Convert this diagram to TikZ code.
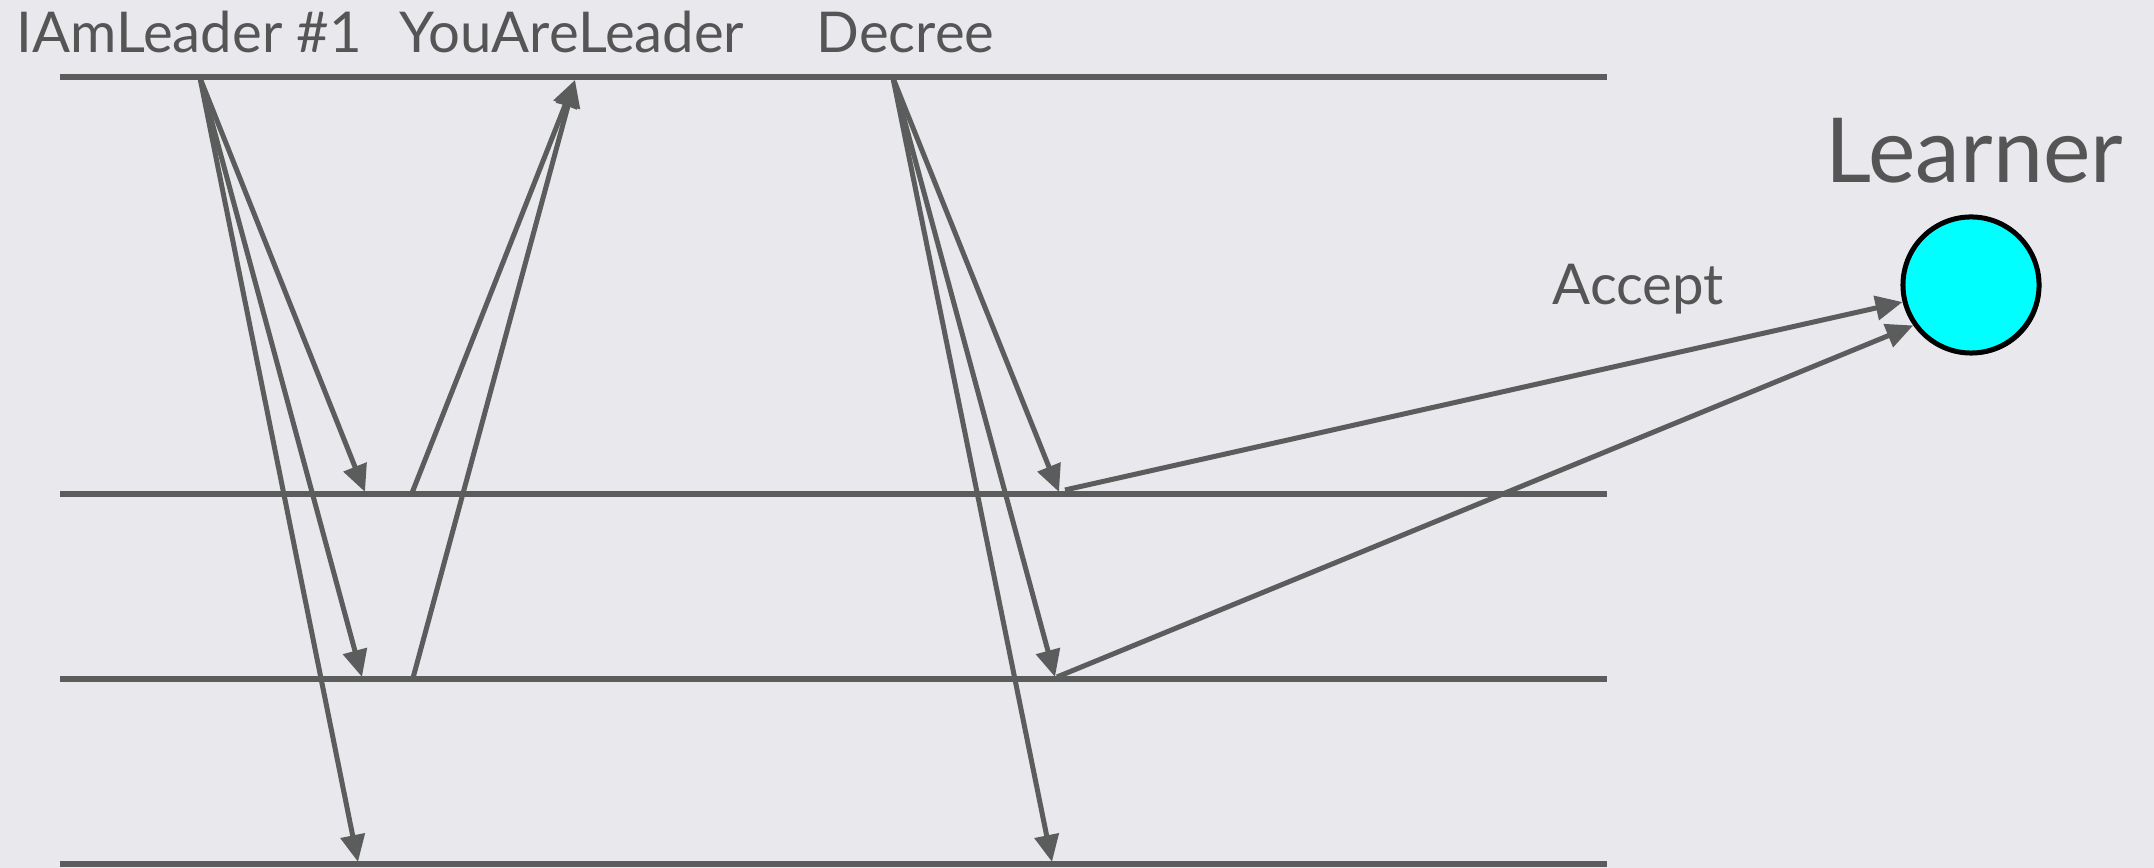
\documentclass[tikz,border=0pt]{standalone}
\usepackage{fontspec}
\setmainfont{Lato}
\usetikzlibrary{arrows.meta,shadows}
\definecolor{bg}{RGB}{233,232,237}
\definecolor{ink}{RGB}{90,93,92}
\definecolor{txt}{RGB}{85,85,85}
\definecolor{dotfill}{RGB}{0,255,255}
\tikzset{
  lane/.style={draw=ink, line width=0.065cm},
  msg/.style={draw=ink, line width=0.05cm, -{Triangle[length=0.27cm,width=0.24cm]}},
  lbl/.style={anchor=base west, inner sep=0pt, text=txt, font=\fontsize{16}{19}\selectfont},
  learnerdot/.style={circle, fill=dotfill, draw=black, line width=0.05cm, minimum size=1.36cm, inner sep=0pt,
    drop shadow={shadow xshift=0.02cm, shadow yshift=-0.02cm, fill=black, opacity=1}},
}
\begin{document}
\begin{tikzpicture}[x=0.01cm, y=-0.01cm]
\useasboundingbox[fill=bg] (0,0) rectangle (2154,868);
\draw[lane] (60,77) -- (1607,77);
\draw[lane] (60,494) -- (1607,494);
\draw[lane] (60,679) -- (1607,679);
\draw[lane] (60,864) -- (1607,864);
\node[lbl] (iam) at (16,53) {IAmLeader \#1};
\node[lbl] (you) at (399,53) {YouAreLeader};
\node[lbl] (dec) at (816,53) {Decree};
\node[lbl] (acc) at (1552,305) {Accept};
\node[lbl, font=\fontsize{25.5}{30}\selectfont] (lrn) at (1825,183) {Learner};
\node[learnerdot] (learner) at (1971,285) {};
\coordinate (lead) at (200,78);
\coordinate (a1) at (365,492);
\coordinate (a2) at (362,677);
\coordinate (a3) at (358,862);
\coordinate (y1) at (412,493);
\coordinate (y2) at (413,678);
\coordinate (ytop) at (575,80);
\coordinate (dsrc) at (893,78);
\coordinate (d1) at (1059,492);
\coordinate (d2) at (1055,677);
\coordinate (d3) at (1052,862);
\coordinate (c1) at (1065,490);
\coordinate (c2) at (1057,677);
\draw[msg] (lead) -- (a1);
\draw[msg] (lead) -- (a2);
\draw[msg] (lead) -- (a3);
\draw[msg] (y1) -- (ytop);
\draw[msg] (y2) -- (ytop);
\draw[msg] (dsrc) -- (d1);
\draw[msg] (dsrc) -- (d2);
\draw[msg] (dsrc) -- (d3);
\draw[msg] (c1) -- (learner.194);
\draw[msg] (c2) -- (learner.215);
\end{tikzpicture}
\end{document}
